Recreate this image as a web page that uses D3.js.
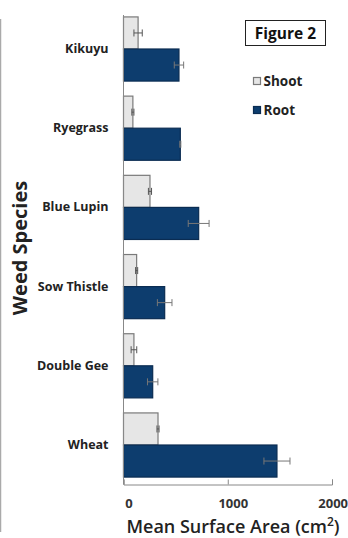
<!DOCTYPE html>
<html><head><meta charset="utf-8">
<script src="https://cdn.jsdelivr.net/npm/d3@7"></script>
<style>body{margin:0;background:#fff}svg{display:block}</style>
</head><body>
<script>
const categories = ["Kikuyu","Ryegrass","Blue Lupin","Sow Thistle","Double Gee","Wheat"];
const shoot = [140, 90, 254, 126, 100, 331];
const shootErr = [40, 10, 15, 10, 27, 10];
const root = [532, 545, 721, 395, 280, 1472];
const rootErr = [45, 5, 100, 70, 50, 125];
const series = ["Shoot","Root"];
const xTicks = [0, 1000, 2000];

const W = 348, H = 538;
const svg = d3.select("body").append("svg").attr("width", W).attr("height", H);
const font = "'Open Sans', 'Noto Sans', sans-serif";

const x = d3.scaleLinear().domain([0, 2000]).range([123.5, 332]);
const y = d3.scaleBand().domain(categories).range([9, 485]).paddingInner(0.19).paddingOuter(0.1);
const ys = d3.scaleBand().domain(series).range([0, y.bandwidth()]);

// left border line
svg.append("line").attr("x1",0.5).attr("x2",0.5).attr("y1",19).attr("y2",532).attr("stroke","#aaa").attr("stroke-width",1.5);

const colors = {Shoot:"#e6e6e6", Root:"#0d3d6e"};
const strokes = {Shoot:"#7a7a7a", Root:"#0a2c52"};
const data = [];
categories.forEach((c,i)=>{
  data.push({c, s:"Shoot", v:shoot[i], e:shootErr[i]});
  data.push({c, s:"Root", v:root[i], e:rootErr[i]});
});

const g = svg.append("g");
g.selectAll("rect.bar").data(data).join("rect").attr("class","bar")
  .attr("x", x(0)).attr("y", d=>y(d.c)+ys(d.s))
  .attr("width", d=>x(d.v)-x(0)).attr("height", ys.bandwidth())
  .attr("fill", d=>colors[d.s]).attr("stroke", d=>strokes[d.s]).attr("stroke-width",1.2);

// error bars
const eb = g.selectAll("g.err").data(data).join("g").attr("class","err")
  .attr("stroke", d=> d.s==="Shoot" ? "#555" : "#777").attr("stroke-width",1);
eb.append("line").attr("x1",d=>x(d.v-d.e)).attr("x2",d=>x(d.v+d.e))
  .attr("y1",d=>y(d.c)+ys(d.s)+ys.bandwidth()/2).attr("y2",d=>y(d.c)+ys(d.s)+ys.bandwidth()/2);
eb.append("line").attr("x1",d=>x(d.v+d.e)).attr("x2",d=>x(d.v+d.e))
  .attr("y1",d=>y(d.c)+ys(d.s)+ys.bandwidth()/2-3.5).attr("y2",d=>y(d.c)+ys(d.s)+ys.bandwidth()/2+3.5);
eb.append("line").attr("x1",d=>x(d.v-d.e)).attr("x2",d=>x(d.v-d.e))
  .attr("y1",d=>y(d.c)+ys(d.s)+ys.bandwidth()/2-3.5).attr("y2",d=>y(d.c)+ys(d.s)+ys.bandwidth()/2+3.5);

// x axis
const xa = svg.append("g").attr("transform","translate(0,484.5)")
  .call(d3.axisBottom(x).tickValues(xTicks).tickSize(-5).tickPadding(14).tickFormat(d3.format("d")));
xa.select(".domain").attr("stroke","#888");
xa.selectAll(".tick line").attr("stroke","#888");
xa.selectAll(".tick text").attr("font-family",font).attr("font-weight","bold").attr("font-size","13px").attr("fill","#333").attr("dx",5);
xa.selectAll(".tick text").filter(d=>d===2000).attr("text-anchor","end").attr("dx",15.5);

// y axis
const ya = svg.append("g").attr("transform","translate(123.5,0)")
  .call(d3.axisLeft(y).tickSize(0).tickPadding(15));
ya.select(".domain").attr("stroke","#888").attr("d","M0,15V484.5");
ya.selectAll(".tick text").attr("font-family",font).attr("font-weight","bold").attr("font-size","12.5px").attr("fill","#222");

// axis titles
svg.append("text").attr("x",233).attr("y",533).attr("text-anchor","middle")
  .attr("font-family",font).attr("font-weight","600").attr("font-size","18px").attr("fill","#222")
  .html("Mean Surface Area (cm<tspan dy='-7' font-size='12px'>2</tspan><tspan dy='7'>)</tspan>");
svg.append("text").attr("transform","translate(27,248) rotate(-90)").attr("text-anchor","middle")
  .attr("font-family",font).attr("font-weight","bold").attr("font-size","20px").attr("fill","#222")
  .text("Weed Species");

// figure label
svg.append("rect").attr("x",245.5).attr("y",20.5).attr("width",80).attr("height",25).attr("fill","#fff").attr("stroke","#222").attr("stroke-width",1);
svg.append("text").attr("x",285.5).attr("y",39).attr("text-anchor","middle")
  .attr("font-family",font).attr("font-weight","bold").attr("font-size","15.5px").attr("fill","#111").text("Figure 2");

// legend
const lg = svg.append("g").selectAll("g").data(series).join("g")
  .attr("transform",(d,i)=>`translate(253.5,${77.5+i*29})`);
lg.append("rect").attr("width",7).attr("height",7).attr("fill",d=>colors[d]).attr("stroke",d=>strokes[d]).attr("stroke-width",1.2);
lg.append("text").attr("x",10).attr("y",8.5).attr("font-family",font).attr("font-weight","bold").attr("font-size","13.5px").attr("fill","#222").text(d=>d);
</script>
</body></html>
